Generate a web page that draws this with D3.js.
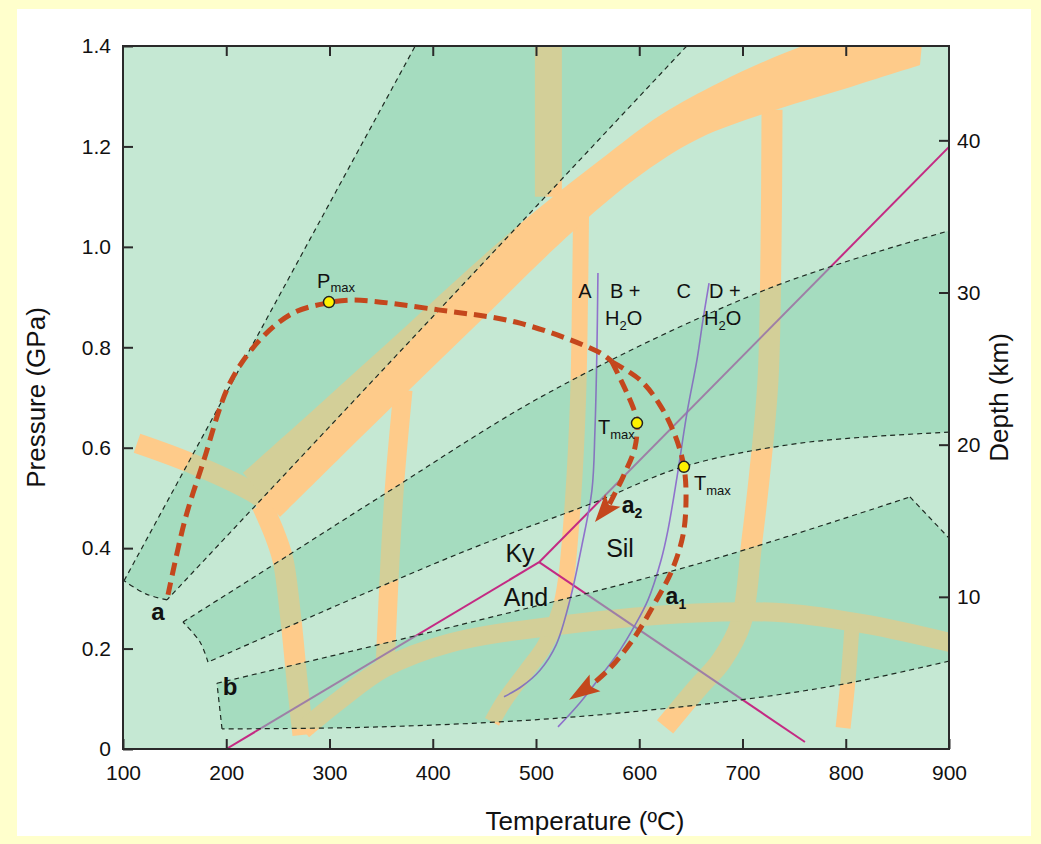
<!DOCTYPE html>
<html><head><meta charset="utf-8">
<script src="https://cdn.jsdelivr.net/npm/d3@7"></script>
<style>
html,body{margin:0;padding:0;background:#FFFFCC;}
svg{display:block;font-family:"Liberation Sans",Arial,Helvetica,sans-serif;}
</style></head><body>
<svg id="chart" width="1041" height="844"></svg>
<script>
// ---------- axes ----------
const tempTicks = [100,200,300,400,500,600,700,800,900];
const pressureTicks = [0,0.2,0.4,0.6,0.8,1.0,1.2,1.4];
const pressureTickLabels = ["0","0.2","0.4","0.6","0.8","1.0","1.2","1.4"];
const depthTicks = [10,20,30,40];
const kmPerGPa = 33;

// ---------- dashed fields (T °C, P GPa) ----------
const fieldA_left  = [[101,0.335],[383,1.40]];
const fieldA_right = [[646,1.40],[142.6,0.297]];
const fieldA_base  = [[142.6,0.297],[122,0.309],[101,0.335]];
const fieldM_upper = [[158.1,0.253],[225.9,0.341],[348.9,0.502],[513.5,0.711],[726.6,0.918],[900,1.032]];
const fieldM_lower = [[900,0.631],[755.7,0.609],[642.4,0.562],[555.2,0.490],[445.8,0.406],[348.9,0.323],[182.3,0.173]];
const fieldM_base  = [[182.3,0.173],[174.6,0.213],[158.1,0.253]];
const fieldB_upper = [[191,0.131],[445.8,0.257],[658.8,0.370],[862.2,0.502]];
const fieldB_edge  = [[862.2,0.502],[900,0.420]];
const fieldB_lower = [[900,0.175],[802.2,0.131],[698.5,0.098],[525.2,0.062],[348.9,0.044],[195.9,0.040]];
const fieldB_base  = [[195.9,0.040],[191,0.131]];

// ---------- reaction bands (centre lines) ----------
const bandMainLower = [[252.1,0.462],[310.2,0.580],[375.1,0.711],[445.8,0.852],[516.5,0.994],[562,1.079],[610.4,1.157],[658.8,1.217],[732.4,1.273],[804.1,1.318],[871.9,1.362]];
const bandMainUpper = [[876.8,1.472],[804.1,1.432],[743.1,1.388],[678.2,1.328],[621.1,1.263],[562,1.173],[503.9,1.079],[455.4,0.994],[419.6,0.928],[375.1,0.844],[322.8,0.747],[271.4,0.651],[216.2,0.550]];
const bandWest      = [[113.6,0.609],[164.9,0.570],[225,0.512],[242,0.488]];
const bandSouthWest = [[234.6,0.486],[247.2,0.426],[255,0.376],[262.7,0.257],[268.5,0.137],[274.3,0.028]];
const band370       = [[371.2,0.715],[363.4,0.536],[358.6,0.376],[353.8,0.163]];
const band520Top    = [[512,1.42],[512,1.10]];
const band540       = [[543.6,1.063],[542.6,0.894],[540.7,0.695],[535.8,0.496],[529,0.337],[523.2,0.277],[508.7,0.207],[491.3,0.157],[470,0.098],[457.4,0.054]];
const band720       = [[728.6,1.273],[727.6,0.994],[724.7,0.735],[717,0.556],[709.2,0.416],[698.5,0.251],[680,0.177],[655,0.118],[625,0.044]];
const bandLowArc    = [[274.3,0.038],[310.2,0.098],[352.8,0.161],[416.7,0.211],[525.2,0.247],[655,0.271],[742.1,0.271],[823.5,0.247],[905,0.210]];
const band800       = [[806.1,0.247],[802.2,0.137],[797.4,0.042]];

// ---------- reaction lines ----------
const kyAnd = [[200,0],[503,0.372]];
const kySil = [[503,0.372],[900,1.199]];
const andSil = [[503,0.372],[760.5,0.014]];
const reactionAB = [[560,0.948],[559,0.795],[557.1,0.635],[554.2,0.516],[544.5,0.406],[532.9,0.297],[519.4,0.207],[503.9,0.157],[486.4,0.125],[469,0.104]];
const reactionCD = [[667.6,0.928],[661.7,0.854],[655.9,0.775],[646.2,0.669],[636.6,0.542],[627.8,0.436],[621.1,0.376],[608.5,0.297],[594.9,0.243],[581.4,0.197],[564.9,0.151],[542.6,0.092],[521.3,0.044]];

// ---------- P-T paths ----------
const pathPrograde = [[143.6,0.307],[160,0.456],[177.5,0.570],[203.6,0.729],[232.7,0.815],[264.6,0.868],[297.6,0.888],[322.8,0.894],[407,0.874],[484.5,0.848],[562,0.789],[573.6,0.771]];
const pathA2 = [[573.6,0.771],[588.1,0.709],[595.9,0.669],[597.8,0.649],[595.9,0.601],[584.3,0.542],[570.7,0.486]];
const pathA1 = [[573.6,0.771],[600.7,0.735],[620.1,0.685],[634.6,0.625],[643.3,0.562],[645.3,0.496],[642.4,0.426],[631.7,0.356],[615.2,0.291],[594.9,0.221],[571.7,0.161],[552.3,0.125]];
const arrowA2Tip = [557.1,0.452];
const arrowA1Tip = [532,0.098];
const peakPoints = [[299.5,0.890],[597.8,0.649],[643.3,0.562]];

// ---------- layout ----------
const W = 1041, H = 844;
const plot = {left:123, right:949, top:46, bottom:749};
const C = {
  page:"#FFFFCC", panel:"#FFFFFF", light:"#C5E8D3", dark:"#A5DCBF",
  band:"#FECB8A", bandDark:"#D3CF98",
  mag:"#C42A83", magDark:"#9E7FA6", pur:"#8F72CC", purDark:"#8676BE",
  path:"#C4471D", axis:"#2A2A2A"
};

const svg = d3.select("#chart");
const x = d3.scaleLinear().domain([100,900]).range([plot.left, plot.right]);
const y = d3.scaleLinear().domain([0,1.4]).range([plot.bottom, plot.top]);
const yDepth = d3.scaleLinear().domain([0,1.4*kmPerGPa]).range([plot.bottom, plot.top]);

svg.append("rect").attr("width",W).attr("height",H).attr("fill",C.page);
svg.append("rect").attr("x",17).attr("y",9).attr("width",1014).attr("height",827).attr("fill",C.panel);

const defs = svg.append("defs");
defs.append("clipPath").attr("id","plotClip").append("rect")
  .attr("x",plot.left).attr("y",plot.top).attr("width",plot.right-plot.left).attr("height",plot.bottom-plot.top);

const seg = (pts, curve) => d3.line().x(d=>x(d[0])).y(d=>y(d[1])).curve(curve || d3.curveLinear)(pts);
const join = (list, close) => list.map((s,i)=> i ? s.replace(/^M/,"L") : s).join("") + (close ? "Z" : "");
const cr = d3.curveCatmullRom.alpha(0.5);

const fieldA = join([seg(fieldA_left), seg(fieldA_right), seg(fieldA_base, cr)], true);
const fieldM = join([seg(fieldM_upper, cr), seg(fieldM_lower, cr), seg(fieldM_base, cr)], true);
const fieldB = join([seg(fieldB_upper, cr), seg(fieldB_edge), seg(fieldB_lower, cr), seg(fieldB_base)], true);
const fields = [fieldA, fieldM, fieldB];

const darkClip = defs.append("clipPath").attr("id","darkClip");
fields.forEach(d => darkClip.append("path").attr("d", d));

const g = svg.append("g").attr("clip-path","url(#plotClip)");
g.append("rect").attr("x",plot.left).attr("y",plot.top).attr("width",plot.right-plot.left).attr("height",plot.bottom-plot.top).attr("fill",C.light);

function drawUnder(layer, bandCol, magCol, purCol){
  const bands = [
    [bandWest,20],[bandSouthWest,21],[band370,19],[band520Top,27],[band540,16],
    [band720,21],[bandLowArc,19],[band800,15]
  ];
  bands.forEach(([pts,w]) => layer.append("path").attr("d", seg(pts, cr))
    .attr("fill","none").attr("stroke",bandCol).attr("stroke-width",w)
    .attr("stroke-linejoin","round"));
  layer.append("path").attr("d", join([seg(bandMainLower, cr), seg(bandMainUpper, cr)], true))
    .attr("fill", bandCol);
  [kyAnd, kySil, andSil].forEach(pts => layer.append("path").attr("d", seg(pts))
    .attr("fill","none").attr("stroke",magCol).attr("stroke-width",2));
  [reactionAB, reactionCD].forEach(pts => layer.append("path").attr("d", seg(pts, cr))
    .attr("fill","none").attr("stroke",purCol).attr("stroke-width",1.6));
}
drawUnder(g.append("g"), C.band, C.mag, C.pur);
const darkLayer = g.append("g");
fields.forEach(d => darkLayer.append("path").attr("d", d).attr("fill", C.dark));
drawUnder(g.append("g").attr("clip-path","url(#darkClip)"), C.bandDark, C.magDark, C.purDark);

// dashed outlines
const outlines = [
  seg(fieldA_left), seg(fieldA_right), seg(fieldA_base, cr),
  seg(fieldM_upper, cr), seg(fieldM_lower, cr), seg(fieldM_base, cr),
  seg(fieldB_upper, cr), seg(fieldB_edge), seg(fieldB_lower, cr), seg(fieldB_base)
];
outlines.forEach(d => g.append("path").attr("d", d).attr("fill","none")
  .attr("stroke","#1E2A22").attr("stroke-width",1.2).attr("stroke-dasharray","5,4"));

// P-T paths
[pathPrograde, pathA2, pathA1].forEach(pts => g.append("path").attr("d", seg(pts, cr))
  .attr("fill","none").attr("stroke",C.path).attr("stroke-width",5).attr("stroke-dasharray","13,7"));
function arrow(from, tip){
  const bx = x(from[0]), by = y(from[1]), tx = x(tip[0]), ty = y(tip[1]);
  const dx = tx-bx, dy = ty-by, L = Math.hypot(dx,dy), ux = dx/L, uy = dy/L;
  const hw = 10, back = 6;
  const p = [[tx,ty],[bx - ux*back - uy*hw, by - uy*back + ux*hw],[bx, by],[bx - ux*back + uy*hw, by - uy*back - ux*hw]];
  g.append("path").attr("d","M"+p.map(q=>q.join(",")).join("L")+"Z").attr("fill",C.path);
}
arrow(pathA2[pathA2.length-1], arrowA2Tip);
arrow(pathA1[pathA1.length-1], arrowA1Tip);
g.selectAll("circle.peak").data(peakPoints).join("circle").attr("class","peak")
  .attr("cx",d=>x(d[0])).attr("cy",d=>y(d[1])).attr("r",5.5)
  .attr("fill","#FFF200").attr("stroke","#222").attr("stroke-width",1.5);

// labels inside plot
function label(t, T, P, opt){
  opt = opt || {};
  const el = svg.append("text").attr("x",x(T)).attr("y",y(P)).attr("dy","0.35em")
    .attr("font-size",opt.size||18).attr("font-weight",opt.bold?"bold":"normal")
    .attr("text-anchor",opt.anchor||"start").attr("fill","#111");
  el.append("tspan").text(t);
  if (opt.sub) el.append("tspan").attr("font-size",opt.subSize||12).attr("dy",opt.subDy||5).text(opt.sub);
  if (opt.after) el.append("tspan").attr("dy",-(opt.subDy||5)).text(opt.after);
  return el;
}
label("a",133.9,0.273,{size:24,bold:true,anchor:"middle"});
label("b",203.6,0.125,{size:24,bold:true,anchor:"middle"});
label("Ky",484.5,0.390,{size:25,anchor:"middle"});
label("And",490.3,0.303,{size:25,anchor:"middle"});
label("Sil",581.4,0.400,{size:25,anchor:"middle"});
label("A",541.0,0.912,{size:20});
label("B +",571.6,0.912,{size:20});
label("H",566.8,0.858,{size:20,sub:"2",subSize:13,subDy:5,after:"O"});
label("C",636.0,0.912,{size:20});
label("D +",667.5,0.912,{size:20});
label("H",662.7,0.858,{size:20,sub:"2",subSize:13,subDy:5,after:"O"});
label("P",288.0,0.932,{size:20,sub:"max",subSize:13,subDy:4});
label("T",560,0.641,{size:20,sub:"max",subSize:13,subDy:5});
label("T",653,0.530,{size:20,sub:"max",subSize:13,subDy:5});
label("a",583.0,0.486,{size:23,bold:true,sub:"2",subSize:14,subDy:5});
label("a",625.5,0.305,{size:23,bold:true,sub:"1",subSize:14,subDy:5});

// axes
const axL = svg.append("g").attr("transform",`translate(${plot.left},0)`)
  .call(d3.axisLeft(y).tickValues(pressureTicks).tickFormat((d,i)=>pressureTickLabels[i]).tickSizeInner(-10).tickSizeOuter(0).tickPadding(12));
const axB = svg.append("g").attr("transform",`translate(0,${plot.bottom})`)
  .call(d3.axisBottom(x).tickValues(tempTicks).tickFormat(d3.format("d")).tickSizeInner(-10).tickSizeOuter(0).tickPadding(16));
const axT = svg.append("g").attr("transform",`translate(0,${plot.top})`)
  .call(d3.axisTop(x).tickValues(tempTicks.slice(1,-1)).tickFormat("").tickSizeInner(-10).tickSizeOuter(0));
const axR = svg.append("g").attr("transform",`translate(${plot.right},0)`)
  .call(d3.axisRight(yDepth).tickValues(depthTicks).tickSizeInner(-10).tickSizeOuter(0).tickPadding(8));
[axL,axB,axT,axR].forEach(a => {
  a.select(".domain").remove();
  a.selectAll(".tick line").attr("stroke",C.axis).attr("stroke-width",2);
  a.selectAll(".tick text").attr("font-size",21).attr("fill","#111").attr("font-family","Liberation Sans, Arial, sans-serif");
});
svg.append("rect").attr("x",plot.left).attr("y",plot.top).attr("width",plot.right-plot.left).attr("height",plot.bottom-plot.top)
  .attr("fill","none").attr("stroke",C.axis).attr("stroke-width",2);

svg.append("text").attr("transform",`translate(45,${(plot.top+plot.bottom)/2}) rotate(-90)`)
  .attr("text-anchor","middle").attr("font-size",26).attr("fill","#111").text("Pressure (GPa)");
svg.append("text").attr("transform",`translate(1008,${(plot.top+plot.bottom)/2}) rotate(-90)`)
  .attr("text-anchor","middle").attr("font-size",26).attr("fill","#111").text("Depth (km)");
svg.append("text").attr("x",585).attr("y",830).attr("text-anchor","middle").attr("font-size",26).attr("fill","#111").text("Temperature (ºC)");
</script></body></html>
